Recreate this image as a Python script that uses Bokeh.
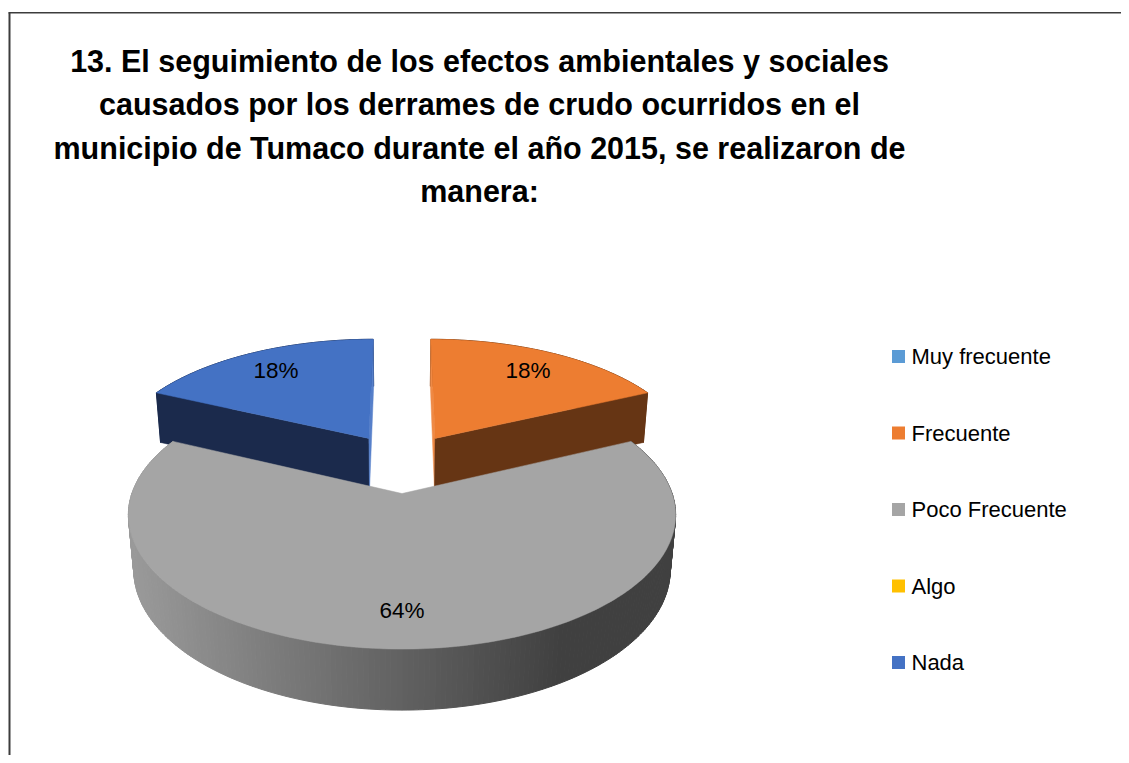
import numpy as np
from bokeh.plotting import figure
from bokeh.models import Range1d
from bokeh.core.properties import value
from bokeh.embed import file_html
from bokeh.resources import INLINE

# ---------------- data ----------------
title_lines = [
    "13. El seguimiento de los efectos ambientales y sociales",
    "causados por los derrames de crudo ocurridos en el",
    "municipio de Tumaco durante el año 2015, se realizaron de",
    "manera:",
]
categories = ["Muy frecuente", "Frecuente", "Poco Frecuente", "Algo", "Nada"]
percentages = [0, 18, 64, 0, 18]
top_colors = ["#5B9BD5", "#ED7D31", "#A5A5A5", "#FFC000", "#4472C4"]
side_light = ["#2E4D6A", "#663514", "#9A9A9A", "#7F6000", "#1B2A4C"]
side_dark = ["#2E4D6A", "#663514", "#404040", "#7F6000", "#1B2A4C"]

# ---------------- layout ----------------
W, H = 1121, 755
FONT = "Liberation Sans, Arial, sans-serif"

p = figure(width=W, height=H, x_range=Range1d(0, W), y_range=Range1d(H, 0),
           output_backend="svg", toolbar_location=None, min_border=0,
           x_axis_type=None, y_axis_type=None)
p.grid.visible = False
p.outline_line_color = None
p.background_fill_color = "white"
p.border_fill_color = "white"

# chart-area frame (only top and left edges are inside the picture)
p.line(x=[9, 9], y=[12, H + 5], line_color="#3C3C3C", line_width=2)
p.line(x=[8, W + 5], y=[12.3, 12.3], line_color="#3C3C3C", line_width=1.6)

# ---------------- 3-D pie projection ----------------
CX, CY, S = 401.5, 462.2, 260.0
SPHI, CPHI = 0.466, 0.885
D = 5.78
EXPLODE = 0.245
DEPTH = 0.235


def proj(x3, z3, h):
    t = z3 * CPHI + h * SPHI
    pf = D / (D - t)
    return CX + S * x3 * pf, CY + S * (z3 * SPHI - h * CPHI) * pf


def hex2rgb(c):
    c = c.lstrip("#")
    return np.array([int(c[i:i + 2], 16) for i in (0, 2, 4)], dtype=float)


def mix(c1, c2, t):
    r = hex2rgb(c1) * (1 - t) + hex2rgb(c2) * t
    return "#%02X%02X%02X" % tuple(int(round(v)) for v in r)


total = float(sum(percentages))
ends = np.cumsum(percentages) / total * 360.0
starts = np.concatenate([[0.0], ends[:-1]])

slices = []
for i, v in enumerate(percentages):
    if v <= 0:
        continue
    a0, a1 = starts[i], ends[i]
    mid = np.radians((a0 + a1) / 2)
    ox, oz = EXPLODE * np.sin(mid), -EXPLODE * np.cos(mid)
    slices.append((oz, i, a0, a1, ox))

slices.sort()  # back slices first

label_x, label_y, label_t = [], [], []
for oz, i, a0, a1, ox in slices:
    th = np.radians(np.linspace(a0, a1, max(8, int(a1 - a0) + 1)))
    x3 = ox + np.sin(th)
    z3 = oz - np.cos(th)
    tx, ty = proj(x3, z3, 0.0)
    bx, by = proj(x3, z3, -DEPTH)
    vx, vy = proj(ox, oz, 0.0)
    vbx, vby = proj(ox, oz, -DEPTH)

    # outer wall as strips with horizontal shading
    xs, ys, cols = [], [], []
    for k in range(len(th) - 1):
        xs.append([tx[k], tx[k + 1], bx[k + 1], bx[k]])
        ys.append([ty[k], ty[k + 1], by[k + 1], by[k]])
        cxm = (tx[k] + tx[k + 1]) / 2
        tt = min(max((cxm - 128) / (560 - 128), 0), 1)
        cols.append(mix(side_light[i], side_dark[i], tt))
    p.patches(xs, ys, fill_color=cols, line_color=cols, line_width=1)

    # radial walls (visible for exploded back slices)
    if oz < 0:
        for end, ang in ((0, a0), (-1, a1)):
            wc = mix(top_colors[i], "#FFFFFF", 0.1) if abs(ang % 360) < 1e-6 else side_dark[i]
            p.patch([vx, tx[end], bx[end], vbx], [vy, ty[end], by[end], vby],
                    fill_color=wc, line_color=wc, line_width=0.5)

    # top face
    p.patch(np.concatenate([[vx], tx]), np.concatenate([[vy], ty]),
            fill_color=top_colors[i], line_color=top_colors[i], line_width=0.5)

    midr = np.radians((a0 + a1) / 2)
    lx, ly = proj(ox + 0.78 * np.sin(midr), oz - 0.78 * np.cos(midr), 0.0)
    label_x.append(lx)
    label_y.append(ly)
    label_t.append(f"{percentages[i]}%")

p.text(x=label_x, y=label_y, text=label_t, text_align="center", text_baseline="middle",
       text_font=value(FONT), text_font_size="22.5px", text_color="#000000")

# ---------------- title ----------------
p.text(x=[479] * len(title_lines), y=[60 + 43.5 * k for k in range(len(title_lines))],
       text=title_lines, text_align="center", text_baseline="middle",
       text_font=value(FONT), text_font_size="30.5px", text_font_style="bold",
       text_color="#000000")

# ---------------- legend ----------------
leg_y = [356 + 76.5 * k for k in range(len(categories))]
p.scatter(x=[898] * len(categories), y=leg_y, marker="square", size=13,
          fill_color=top_colors, line_color=None)
p.text(x=[911] * len(categories), y=leg_y, text=categories, text_align="left",
       text_baseline="middle", text_font=value(FONT), text_font_size="22px",
       text_color="#000000")

open("out.html", "w").write(file_html(p, INLINE))
